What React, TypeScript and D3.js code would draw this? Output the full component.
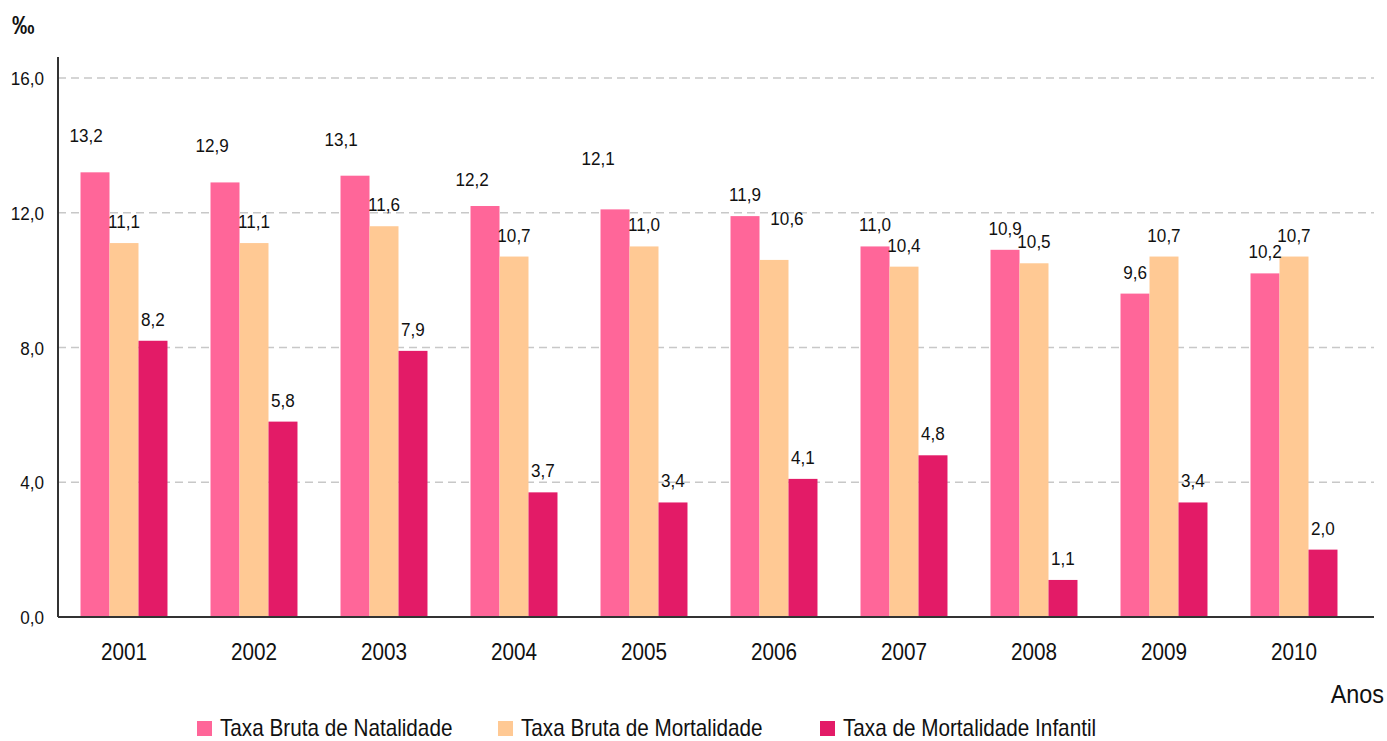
import React from 'react';
import * as d3 from 'd3';

// dados (‰)
const years = ['2001', '2002', '2003', '2004', '2005', '2006', '2007', '2008', '2009', '2010'];
const natalidade = [13.2, 12.9, 13.1, 12.2, 12.1, 11.9, 11.0, 10.9, 9.6, 10.2];
const mortalidade = [11.1, 11.1, 11.6, 10.7, 11.0, 10.6, 10.4, 10.5, 10.7, 10.7];
const mortInfantil = [8.2, 5.8, 7.9, 3.7, 3.4, 4.1, 4.8, 1.1, 3.4, 2.0];
const seriesNames = ['Taxa Bruta de Natalidade', 'Taxa Bruta de Mortalidade', 'Taxa de Mortalidade Infantil'];
const yTicks = [0, 4, 8, 12, 16];

const colors = ['#ff6699', '#ffc994', '#e31b67'];

// ajustes manuais das etiquetas (como no original)
const labelNudge: Record<string, [number, number]> = {
  '0-2001': [-9, -15],
  '0-2002': [-13, -15],
  '0-2003': [-14, -15],
  '0-2004': [-13, -5],
  '0-2005': [-17, -29],
  '1-2006': [13, -20],
};

const FONT = '"Liberation Sans", Arial, sans-serif';
const SX = 0.9; // texto ligeiramente comprimido

function T(props: { x: number; y: number; size: number; anchor?: string; weight?: string; children: React.ReactNode }) {
  return (
    <text
      transform={`translate(${props.x},${props.y}) scale(${SX},1)`}
      fontSize={props.size}
      fontFamily={FONT}
      fontWeight={props.weight || 'normal'}
      textAnchor={props.anchor || 'start'}
      fill="#111"
    >
      {props.children}
    </text>
  );
}

const fmt = (v: number) => v.toFixed(1).replace('.', ',');

export default function App() {
  const width = 1387;
  const height = 741;
  const left = 58;
  const axisRight = 1374;
  const top = 57;
  const bottom = 617;

  const y = d3.scaleLinear().domain([0, 16]).range([bottom, 78]);
  const x0 = d3.scaleBand().domain(years).range([59, 1359]).paddingInner(0.331).paddingOuter(0.1655);
  const x1 = d3.scaleBand().domain(['0', '1', '2']).range([0, x0.bandwidth()]);

  const series = [natalidade, mortalidade, mortInfantil];

  const legendX = [197, 498, 820];

  return (
    <svg width={width} height={height} style={{ position: 'absolute', left: 0, top: 0, background: '#fff' }}>
      {/* grelha */}
      {yTicks.filter((t) => t > 0).map((t) => (
        <line key={t} x1={left} x2={axisRight} y1={y(t)} y2={y(t)} stroke="#c8c8c8" strokeWidth={1.5} strokeDasharray="8,5" />
      ))}
      {yTicks.map((t) => (
        <T key={'yt' + t} x={44} y={y(t) + 7} size={19} anchor="end">{fmt(t)}</T>
      ))}
      <T x={12} y={34} size={25} weight="bold">‰</T>

      {/* barras */}
      {series.map((vals, si) =>
        vals.map((v, i) => {
          const bx = (x0(years[i]) as number) + (x1(String(si)) as number);
          return (
            <rect key={si + '-' + i} x={bx} y={y(v)} width={x1.bandwidth()} height={bottom - y(v)} fill={colors[si]} />
          );
        })
      )}

      {/* etiquetas */}
      {series.map((vals, si) =>
        vals.map((v, i) => {
          const cx = (x0(years[i]) as number) + (x1(String(si)) as number) + x1.bandwidth() / 2;
          const n = labelNudge[si + '-' + years[i]] || [0, 0];
          return (
            <T key={'l' + si + '-' + i} x={cx + n[0]} y={y(v) - 22 + n[1] + 7} size={19} anchor="middle">
              {fmt(v)}
            </T>
          );
        })
      )}

      {/* eixos */}
      <line x1={left} x2={left} y1={top} y2={bottom} stroke="#333" strokeWidth={2} />
      <line x1={left} x2={axisRight} y1={bottom} y2={bottom} stroke="#333" strokeWidth={2} />

      {years.map((yr) => (
        <T key={'x' + yr} x={(x0(yr) as number) + x0.bandwidth() / 2} y={660} size={23} anchor="middle">{yr}</T>
      ))}
      <T x={1384} y={703} size={26} anchor="end">Anos</T>

      {/* legenda */}
      {seriesNames.map((name, i) => (
        <g key={name}>
          <rect x={legendX[i]} y={721} width={15} height={15} fill={colors[i]} />
          <T x={legendX[i] + 23} y={736} size={23}>{name}</T>
        </g>
      ))}
    </svg>
  );
}
